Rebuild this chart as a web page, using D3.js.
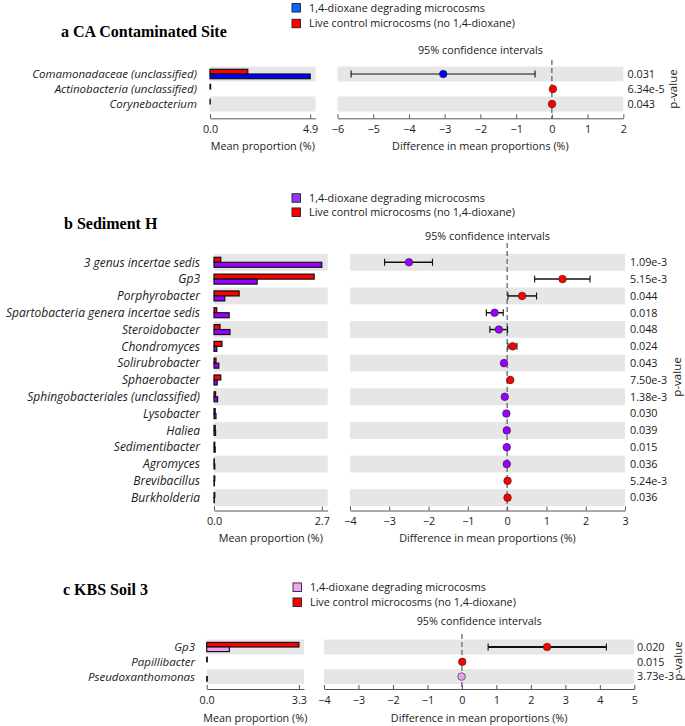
<!DOCTYPE html>
<html>
<head>
<meta charset="utf-8">
<script src="https://cdn.jsdelivr.net/npm/d3@7"></script>
<style>
body { margin: 0; background: #fff; }
text { font-family: "Open Sans", Lato, sans-serif; fill: #1a1a1a; }
.ptitle { font-family: "Liberation Serif", serif; font-weight: bold; font-size: 16px; fill: #000; }
.taxon { font-style: italic; }
.small { font-size: 10.8px; }
.axis text { font-family: "Open Sans", sans-serif; font-size: 10.8px; fill: #1a1a1a; }
.axis path, .axis line { stroke: #555; }
</style>
</head>
<body>
<div id="chart"></div>
<script>
const seriesNames = ["1,4-dioxane degrading microcosms", "Live control microcosms (no 1,4-dioxane)"];

// a CA Contaminated Site
const aTaxa = ["Comamonadaceae (unclassified)", "Actinobacteria (unclassified)", "Corynebacterium"];
const aDegrading = [4.9, 0.0, 0.0];
const aControl = [1.85, 0.03, 0.01];
const aDiff = [-3.04, 0.03, 0.005];
const aLow = [-5.62, 0.01, 0.0];
const aHigh = [-0.47, 0.05, 0.01];
const aPvalues = ["0.031", "6.34e-5", "0.043"];
const aBarMax = 4.9;
const aDiffTicks = [-6, -5, -4, -3, -2, -1, 0, 1, 2];

// b Sediment H
const bTaxa = ["3 genus incertae sedis", "Gp3", "Porphyrobacter", "Spartobacteria genera incertae sedis",
    "Steroidobacter", "Chondromyces", "Solirubrobacter", "Sphaerobacter", "Sphingobacteriales (unclassified)",
    "Lysobacter", "Haliea", "Sedimentibacter", "Agromyces", "Brevibacillus", "Burkholderia"];
const bDegrading = [2.70, 1.08, 0.27, 0.38, 0.40, 0.07, 0.12, 0.08, 0.09, 0.05, 0.04, 0.03, 0.02, 0.01, 0.01];
const bControl = [0.17, 2.51, 0.63, 0.07, 0.15, 0.20, 0.05, 0.17, 0.04, 0.03, 0.03, 0.02, 0.01, 0.02, 0.02];
const bDiff = [-2.50, 1.41, 0.38, -0.32, -0.21, 0.14, -0.08, 0.08, -0.06, -0.02, -0.01, -0.01, -0.01, 0.01, 0.01];
const bLow = [-3.12, 0.70, 0.02, -0.53, -0.44, 0.02, -0.10, 0.06, -0.08, -0.03, -0.02, -0.02, -0.015, 0.005, 0.005];
const bHigh = [-1.90, 2.11, 0.75, -0.10, 0.01, 0.25, -0.06, 0.10, -0.04, -0.01, -0.005, -0.005, -0.005, 0.015, 0.015];
const bPvalues = ["1.09e-3", "5.15e-3", "0.044", "0.018", "0.048", "0.024", "0.043", "7.50e-3",
    "1.38e-3", "0.030", "0.039", "0.015", "0.036", "5.24e-3", "0.036"];
const bBarMax = 2.7;
const bDiffTicks = [-4, -3, -2, -1, 0, 1, 2, 3];

// c KBS Soil 3
const cTaxa = ["Gp3", "Papillibacter", "Pseudoxanthomonas"];
const cDegrading = [0.81, 0.0, 0.02];
const cControl = [3.3, 0.02, 0.0];
const cDiff = [2.47, 0.01, -0.01];
const cLow = [0.76, 0.0, -0.02];
const cHigh = [4.19, 0.02, 0.0];
const cPvalues = ["0.020", "0.015", "3.73e-3"];
const cBarMax = 3.3;
const cDiffTicks = [-4, -3, -2, -1, 0, 1, 2, 3, 4, 5];

const red = "#ff0000";

var svg = d3.select("#chart").append("svg").attr("width", 685).attr("height", 726);

function drawPanel(o) {
    var g = svg.append("g");
    var n = o.taxa.length;

    g.append("text").attr("class", "ptitle").attr("x", o.titleX).attr("y", o.titleY).text(o.title);

    // legend
    var legFill = [o.legendColor, red];
    for (var i = 0; i < 2; i++) {
        g.append("rect")
            .attr("x", o.legX).attr("y", o.legY[i] - 4.25)
            .attr("width", 8.5).attr("height", 8.5)
            .attr("fill", legFill[i]).attr("stroke", "#222").attr("stroke-width", 0.9);
        g.append("text")
            .attr("x", o.legX + 17).attr("y", o.legY[i]).attr("dy", "0.35em")
            .style("font-size", "10.8px")
            .text(seriesNames[i]);
    }

    var y = d3.scaleBand().domain(o.taxa).range([o.rowTop, o.rowTop + n * o.step]);
    var bx = d3.scaleLinear().domain([0, o.barMax * 1.055]).range([o.barX0, o.barX1]);
    var dx = d3.scaleLinear().domain(d3.extent(o.ticks)).range([o.diffX0, o.diffX1]);
    var cy = function(t) { return y(t) + o.step / 2; };

    // alternating gray rows
    var striped = o.taxa.filter(function(t, i) { return i % 2 === 0; });
    g.selectAll(".bandL").data(striped).enter().append("rect")
        .attr("x", bx(0)).attr("width", o.barX1 - o.barX0)
        .attr("y", function(d) { return y(d); }).attr("height", o.step)
        .attr("fill", "#e6e6e6");
    g.selectAll(".bandR").data(striped).enter().append("rect")
        .attr("x", o.diffX0).attr("width", o.diffX1 - o.diffX0)
        .attr("y", function(d) { return y(d); }).attr("height", o.step)
        .attr("fill", "#e6e6e6");

    // taxon labels
    g.selectAll(".taxon").data(o.taxa).enter().append("text")
        .attr("class", "taxon")
        .style("font-size", o.labelSize + "px")
        .attr("x", o.labelX).attr("y", cy).attr("dy", "0.35em")
        .attr("text-anchor", "end")
        .text(function(d) { return d; });

    // mean proportion bars
    var bh = o.barH;
    g.selectAll(".ctrl").data(o.taxa).enter().append("rect")
        .attr("x", bx(0)).attr("y", function(d) { return cy(d) - bh; })
        .attr("width", function(d, i) { return bx(o.control[i]) - bx(0); })
        .attr("height", bh)
        .attr("fill", red).attr("stroke", "#111").attr("stroke-width", 1.2);
    g.selectAll(".deg").data(o.taxa).enter().append("rect")
        .attr("x", bx(0)).attr("y", function(d) { return cy(d); })
        .attr("width", function(d, i) { return bx(o.degrading[i]) - bx(0); })
        .attr("height", bh)
        .attr("fill", o.color).attr("stroke", "#111").attr("stroke-width", 1.2);

    // zero line
    g.append("line")
        .attr("x1", dx(0)).attr("x2", dx(0))
        .attr("y1", o.dashTop).attr("y2", o.axisY)
        .attr("stroke", "#707070").attr("stroke-width", 1.4)
        .attr("stroke-dasharray", "5,3");

    // confidence intervals
    var ci = g.selectAll(".ci").data(o.taxa).enter().append("g");
    ci.append("line")
        .attr("x1", function(d, i) { return dx(o.low[i]); })
        .attr("x2", function(d, i) { return dx(o.high[i]); })
        .attr("y1", cy).attr("y2", cy)
        .attr("stroke", "#111").attr("stroke-width", o.ciW);
    [o.low, o.high].forEach(function(arr) {
        ci.append("line")
            .attr("x1", function(d, i) { return dx(arr[i]); })
            .attr("x2", function(d, i) { return dx(arr[i]); })
            .attr("y1", function(d) { return cy(d) - 3.5; })
            .attr("y2", function(d) { return cy(d) + 3.5; })
            .attr("stroke", "#111").attr("stroke-width", 1.1);
    });
    ci.append("circle")
        .attr("cx", function(d, i) { return dx(o.diff[i]); })
        .attr("cy", cy).attr("r", 3.8)
        .attr("fill", function(d, i) { return o.diff[i] > 0 ? red : o.color; })
        .attr("stroke", "#222").attr("stroke-width", 0.6);

    // p-values
    g.selectAll(".pv").data(o.taxa).enter().append("text")
        .attr("class", "small")
        .attr("x", o.pX).attr("y", cy).attr("dy", "0.35em")
        .text(function(d, i) { return o.pvalues[i]; });
    g.append("text")
        .attr("transform", "translate(" + o.pvX + "," + o.pvY + ") rotate(-90)")
        .attr("text-anchor", "middle").attr("dy", "0.35em")
        .style("font-size", "11.5px")
        .text("p-value");

    // axes
    g.append("g").attr("class", "axis")
        .attr("transform", "translate(0," + o.axisY + ")")
        .call(d3.axisBottom(bx).tickValues([0, o.barMax]).tickFormat(d3.format(".1f"))
            .tickSize(-4).tickSizeOuter(0).tickPadding(7));
    g.append("g").attr("class", "axis")
        .attr("transform", "translate(0," + o.axisY + ")")
        .call(d3.axisBottom(dx).tickValues(o.ticks).tickFormat(d3.format("d"))
            .tickSize(-4).tickSizeOuter(0).tickPadding(7));

    g.append("text").attr("class", "small")
        .attr("x", (o.diffX0 + o.diffX1) / 2).attr("y", o.ciY).attr("dy", "0.35em")
        .attr("text-anchor", "middle").text("95% confidence intervals");
    g.append("text").attr("class", "small")
        .attr("x", (o.barX0 + o.barX1) / 2).attr("y", o.axisTitleY).attr("dy", "0.35em")
        .attr("text-anchor", "middle").text("Mean proportion (%)");
    g.append("text").attr("class", "small")
        .attr("x", (o.diffX0 + o.diffX1) / 2).attr("y", o.axisTitleY).attr("dy", "0.35em")
        .attr("text-anchor", "middle").text("Difference in mean proportions (%)");
}

drawPanel({
    title: "a CA Contaminated Site", titleX: 61, titleY: 37,
    color: "#0000ff", legendColor: "#0a64ff",
    legX: 292, legY: [7.8, 23.5],
    taxa: aTaxa, degrading: aDegrading, control: aControl,
    diff: aDiff, low: aLow, high: aHigh, pvalues: aPvalues,
    barMax: aBarMax, ticks: aDiffTicks,
    rowTop: 66.5, step: 15, barH: 4.7, labelX: 197, labelSize: 11.5,
    barX0: 210, barX1: 315.7, diffX0: 337.5, diffX1: 623.3,
    pX: 627.5, pvX: 673, pvY: 89, ciY: 50, dashTop: 60,
    axisY: 118.3, axisTitleY: 146, ciW: 1.2
});

drawPanel({
    title: "b Sediment H", titleX: 64, titleY: 228.5,
    color: "#9900ff", legendColor: "#9933ff",
    legX: 292, legY: [198, 212.2],
    taxa: bTaxa, degrading: bDegrading, control: bControl,
    diff: bDiff, low: bLow, high: bHigh, pvalues: bPvalues,
    barMax: bBarMax, ticks: bDiffTicks,
    rowTop: 253.9, step: 16.81, barH: 5, labelX: 200, labelSize: 12,
    barX0: 214, barX1: 327.7, diffX0: 350, diffX1: 625,
    pX: 630, pvX: 677, pvY: 377, ciY: 236.7, dashTop: 243,
    axisY: 510.5, axisTitleY: 538.3, ciW: 1.5
});

drawPanel({
    title: "c KBS Soil 3", titleX: 63, titleY: 594.5,
    color: "#f0a0f0", legendColor: "#f4a4f4",
    legX: 293, legY: [587.2, 602.2],
    taxa: cTaxa, degrading: cDegrading, control: cControl,
    diff: cDiff, low: cLow, high: cHigh, pvalues: cPvalues,
    barMax: cBarMax, ticks: cDiffTicks,
    rowTop: 639.6, step: 14.8, barH: 4.6, labelX: 195, labelSize: 11.5,
    barX0: 206.7, barX1: 304, diffX0: 324, diffX1: 634.3,
    pX: 637, pvX: 678, pvY: 661, ciY: 621.7, dashTop: 634,
    axisY: 689, axisTitleY: 718, ciW: 2
});
</script>
</body>
</html>
